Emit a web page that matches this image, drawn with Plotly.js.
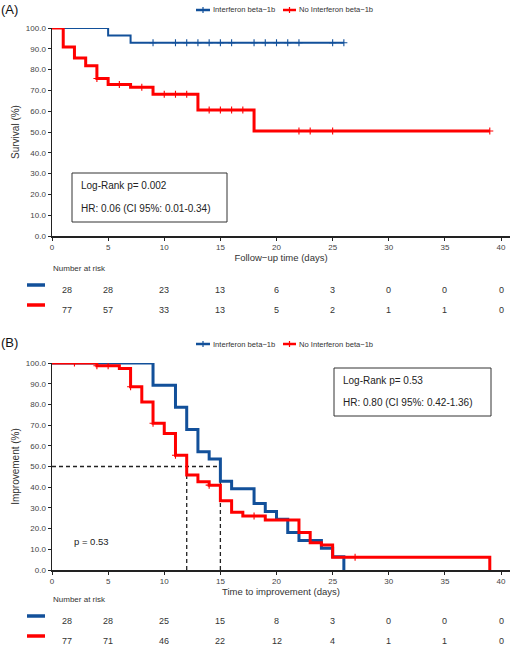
<!DOCTYPE html>
<html><head><meta charset="utf-8">
<script src="https://cdn.plot.ly/plotly-3.0.1.min.js"></script>
<style>body{margin:0;padding:0;background:#fff}#chart{width:512px;height:646px}</style>
</head><body><div id="chart"></div>
<script>
// ---------- data ----------
const groupNames = ['Interferon beta\u22121b', 'No Interferon beta\u22121b'];
const riskTimes = [0, 5, 10, 15, 20, 25, 30, 35, 40];

// Panel A: survival
const aBlueTime = [0, 5, 7, 26];
const aBlueSurv = [100, 96.4, 92.9, 92.9];
const aBlueCens = [9, 11, 12, 13, 14, 15, 16, 18, 19, 20, 21, 22, 25, 26];
const aRedTime = [0, 1, 2, 3, 4, 5, 7, 9, 13, 18, 39];
const aRedSurv = [100, 90.9, 85.6, 81.9, 75.7, 72.8, 71.5, 68.1, 60.6, 50.5, 50.5];
const aRedCens = [4, 6, 8, 10, 11, 12, 14, 15, 16, 17, 22, 23, 25, 39];
const aRiskBlue = [28, 28, 23, 13, 6, 3, 0, 0, 0];
const aRiskRed = [77, 57, 33, 13, 5, 2, 1, 1, 0];

// Panel B: improvement
const bBlueTime = [0, 9, 11, 12, 13, 14, 15, 16, 18, 19, 20, 21, 22, 24, 25, 26];
const bBlueSurv = [100, 89.3, 78.6, 67.9, 57.1, 53.6, 42.9, 39.3, 32.1, 28.3, 24.5, 18.1, 14.2, 10.5, 6.4, 0];
const bBlueCens = [5];
const bRedTime = [0, 4, 6, 7, 8, 9, 10, 11, 12, 13, 14, 15, 16, 17, 19, 22, 23, 24, 25, 39];
const bRedSurv = [100, 98.7, 97.4, 88.5, 81.2, 70.9, 66.0, 55.4, 45.9, 42.6, 41.0, 33.5, 27.9, 26.1, 24.2, 18.1, 13.2, 12.1, 6.2, 0];
const bRedCens = [2, 4, 5, 7, 9, 11, 14, 18, 27];
const bRiskBlue = [28, 28, 25, 15, 8, 3, 0, 0, 0];
const bRiskRed = [77, 71, 46, 22, 12, 4, 1, 1, 0];
const medianTimes = [12, 15];
const medianLevel = 50;

const statsA = ['Log-Rank p= 0.002', 'HR: 0.06 (CI 95%: 0.01-0.34)'];
const statsB = ['Log-Rank p= 0.53', 'HR: 0.80 (CI 95%: 0.42-1.36)'];
const pTextB = 'p = 0.53';

// ---------- styling ----------
const W = 512, H = 646;
const BLUE = '#12509a', RED = '#ff0000';
const FONT = 'Liberation Sans, Arial, sans-serif';
const px = v => v / W;
const py = v => 1 - v / H;

function stepAt(times, surv, t) {
  let v = surv[0];
  for (let i = 0; i < times.length; i++) if (times[i] <= t) v = surv[i];
  return v;
}

const traces = [];
function addCurve(times, surv, cens, color, width, xa, ya) {
  traces.push({x: times, y: surv, xaxis: xa, yaxis: ya, mode: 'lines',
    line: {shape: 'hv', color: color, width: width}, showlegend: false, hoverinfo: 'skip'});
  traces.push({x: cens, y: cens.map(t => stepAt(times, surv, t)), xaxis: xa, yaxis: ya, mode: 'markers',
    marker: {symbol: 'cross-thin', size: 5, color: color, line: {color: color, width: 1.1}},
    showlegend: false, hoverinfo: 'skip'});
}
addCurve(aBlueTime, aBlueSurv, aBlueCens, BLUE, 2, 'x', 'y');
addCurve(aRedTime, aRedSurv, aRedCens, RED, 3, 'x', 'y');
// median reference lines (panel B)
const dashStyle = {color: '#222', width: 1.3, dash: '4px,3px'};
traces.push({x: [0, medianTimes[1]], y: [medianLevel, medianLevel], xaxis: 'x2', yaxis: 'y2', mode: 'lines',
  line: dashStyle, showlegend: false, hoverinfo: 'skip'});
medianTimes.forEach(t => traces.push({x: [t, t], y: [0, medianLevel], xaxis: 'x2', yaxis: 'y2', mode: 'lines',
  line: dashStyle, showlegend: false, hoverinfo: 'skip'}));
addCurve(bBlueTime, bBlueSurv, bBlueCens, BLUE, 3, 'x2', 'y2');
addCurve(bRedTime, bRedSurv, bRedCens, RED, 3, 'x2', 'y2');

const tickFont = {family: FONT, size: 8, color: '#444'};
function xAxis(anchor, title) {
  return {domain: [px(52), px(510)], range: [0, 40.8], anchor: anchor, tickvals: riskTimes,
    ticks: 'outside', ticklen: 3, tickwidth: 1, tickcolor: '#222', showline: true, linecolor: '#222', linewidth: 1.5,
    showgrid: false, zeroline: false, tickfont: tickFont, fixedrange: true,
    title: {text: title, font: {family: FONT, size: 9.5, color: '#333'}, standoff: 0}};
}
function yAxis(anchor, dom, title) {
  return {domain: dom, range: [0, 100], anchor: anchor, tickvals: [0,10,20,30,40,50,60,70,80,90,100],
    tickformat: '.1f', ticksuffix: '%', ticks: 'outside', ticklen: 3, tickwidth: 1, tickcolor: '#222',
    showline: true, linecolor: '#222', linewidth: 1.5, showgrid: false, zeroline: false, tickfont: tickFont,
    fixedrange: true, title: {text: title, font: {family: FONT, size: 10, color: '#333'}, standoff: 4}};
}

const annotations = [], shapes = [];
function txt(x, y, text, size, opts) {
  annotations.push(Object.assign({xref: 'paper', yref: 'paper', x: px(x), y: py(y), text: text, showarrow: false,
    xanchor: 'left', yanchor: 'middle', borderpad: 0, font: {family: FONT, size: size, color: '#222'}}, opts || {}));
}
function hline(x0, x1, y, color, w) {
  shapes.push({type: 'line', xref: 'paper', yref: 'paper', x0: px(x0), x1: px(x1), y0: py(y), y1: py(y),
    line: {color: color, width: w}});
}
function vline(x, y0, y1, color, w) {
  shapes.push({type: 'line', xref: 'paper', yref: 'paper', x0: px(x), x1: px(x), y0: py(y0), y1: py(y1),
    line: {color: color, width: w}});
}
function legendRow(y) {
  hline(196, 210, y, BLUE, 2.5); vline(203, y - 3, y + 3, BLUE, 1.2);
  txt(212, y, groupNames[0], 7.6, {font: {family: FONT, size: 7.6, color: '#333'}});
  hline(283, 296, y, RED, 2.5); vline(289.5, y - 3, y + 3, RED, 1.2);
  txt(298, y, groupNames[1], 7.6, {font: {family: FONT, size: 7.6, color: '#333'}});
}
function statBox(x0, y0, x1, y1, lines) {
  shapes.push({type: 'rect', xref: 'paper', yref: 'paper', x0: px(x0), x1: px(x1), y0: py(y0), y1: py(y1),
    line: {color: '#333', width: 1}, fillcolor: 'rgba(0,0,0,0)'});
  const h = y1 - y0;
  txt(x0 + 8, y0 + h * 0.25, lines[0], 10);
  txt(x0 + 8, y0 + h * 0.72, lines[1], 10);
}
function riskTable(yLabel, yRow1, yRow2, blueVals, redVals, xa) {
  txt(52, yLabel, 'Number at risk', 8, {font: {family: FONT, size: 8, color: '#333'}});
  hline(27, 45, yRow1 - 5, BLUE, 3.5);
  hline(27, 45, yRow2 - 5, RED, 3.5);
  [[blueVals, yRow1], [redVals, yRow2]].forEach(([vals, yy]) => {
    vals.forEach((v, i) => annotations.push({xref: xa, yref: 'paper', x: riskTimes[i], y: py(yy),
      text: String(v), showarrow: false, xanchor: 'center', yanchor: 'middle', xshift: i === 0 ? 15 : 0,
      borderpad: 0, font: {family: FONT, size: 9, color: '#333'}}));
  });
}

txt(0, 9, '(A)', 13, {font: {family: FONT, size: 13, color: '#111'}});
txt(0, 342, '(B)', 13, {font: {family: FONT, size: 13, color: '#111'}});
legendRow(10);
legendRow(344);
statBox(72, 173, 227, 222, statsA);
statBox(334, 368, 491, 416, statsB);
txt(73, 541, pTextB, 9.5);
riskTable(268, 290, 310, aRiskBlue, aRiskRed, 'x');
riskTable(599, 621, 641, bRiskBlue, bRiskRed, 'x2');

const layout = {
  width: W, height: H, margin: {l: 0, r: 0, t: 0, b: 0}, paper_bgcolor: '#fff', plot_bgcolor: '#fff',
  showlegend: false, font: {family: FONT},
  xaxis: xAxis('y', 'Follow\u2212up time (days)'),
  yaxis: yAxis('x', [py(236), py(28)], 'Survival (%)'),
  xaxis2: xAxis('y2', 'Time to improvement (days)'),
  yaxis2: yAxis('x2', [py(570), py(363)], 'Improvement (%)'),
  annotations: annotations, shapes: shapes
};
Plotly.newPlot('chart', traces, layout, {displayModeBar: false, staticPlot: true});
</script></body></html>
